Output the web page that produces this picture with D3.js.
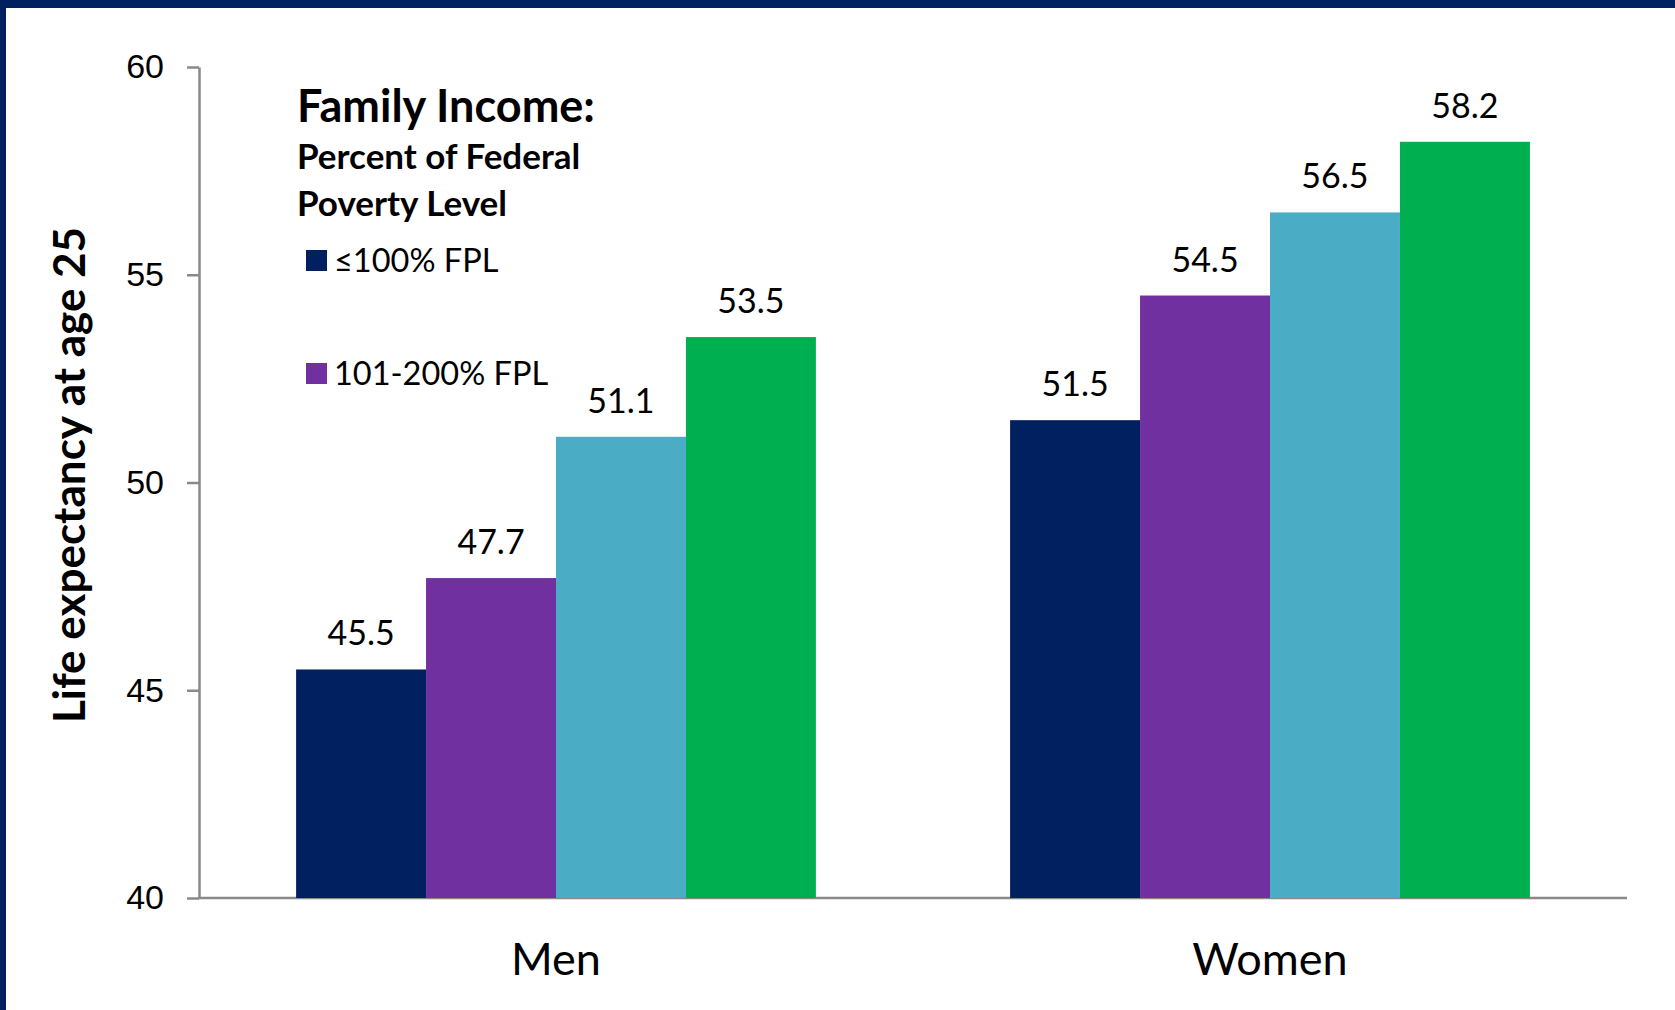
<!DOCTYPE html>
<html>
<head>
<meta charset="utf-8">
<script src="https://cdn.jsdelivr.net/npm/d3@7"></script>
<style>
  body { margin: 0; background: #fff; }
  svg { display: block; font-family: Lato, "Open Sans", sans-serif; }
  .axis path, .axis line { stroke: #898989; stroke-width: 2.5px; }
  .axis text { font-size: 34px; fill: #000; }
</style>
</head>
<body>
<script>
// categories and series
var groups = ["Men", "Women"];
var seriesNames = ["\u2264100% FPL", "101-200% FPL", "201-400% FPL", ">400% FPL"];
var seriesColors = ["#002060", "#7030A0", "#4BACC6", "#00B050"];
var menValues = [45.5, 47.7, 51.1, 53.5];
var womenValues = [51.5, 54.5, 56.5, 58.2];
var yTicks = [40, 45, 50, 55, 60];

var W = 1675, H = 1010;
var margin = { left: 199, right: 48, top: 67, bottom: 112 };

var svg = d3.select("body").append("svg")
    .attr("width", W)
    .attr("height", H);

// frame (navy band at top + left edge)
svg.append("rect").attr("x", 0).attr("y", 0).attr("width", W).attr("height", 8).attr("fill", "#002060");
svg.append("rect").attr("x", 0).attr("y", 0).attr("width", 6).attr("height", H).attr("fill", "#002060");

var x0 = d3.scaleBand()
    .domain(groups)
    .range([margin.left, W - margin.right])
    .paddingInner(0.272)
    .paddingOuter(0.136);

var x1 = d3.scaleBand()
    .domain(d3.range(seriesNames.length))
    .range([0, x0.bandwidth()]);

var y = d3.scaleLinear()
    .domain([40, 60])
    .range([H - margin.bottom, margin.top]);

var rows = [
    { group: "Men", values: menValues },
    { group: "Women", values: womenValues }
];

// y axis
svg.append("g")
    .attr("class", "axis")
    .attr("transform", "translate(" + margin.left + ",0)")
    .call(d3.axisLeft(y).tickValues(yTicks).tickSize(12).tickPadding(23).tickSizeOuter(0));

// x axis baseline
svg.append("line")
    .attr("x1", margin.left).attr("x2", W - margin.right)
    .attr("y1", y(40)).attr("y2", y(40))
    .attr("stroke", "#898989").attr("stroke-width", 2.5);

// bars
var g = svg.selectAll(".grp")
    .data(rows)
    .enter().append("g")
    .attr("class", "grp")
    .attr("transform", function(d) { return "translate(" + x0(d.group) + ",0)"; });

g.selectAll("rect")
    .data(function(d) { return d.values; })
    .enter().append("rect")
    .attr("x", function(d, i) { return x1(i); })
    .attr("y", function(d) { return y(d); })
    .attr("width", x1.bandwidth())
    .attr("height", function(d) { return y(40) - y(d); })
    .attr("fill", function(d, i) { return seriesColors[i]; });

g.selectAll("text.val")
    .data(function(d) { return d.values; })
    .enter().append("text")
    .attr("class", "val")
    .attr("x", function(d, i) { return x1(i) + x1.bandwidth() / 2; })
    .attr("y", function(d) { return y(d) - 24; })
    .attr("text-anchor", "middle")
    .attr("font-size", 34)
    .text(function(d) { return d.toFixed(1); });

// category labels
svg.selectAll("text.cat")
    .data(groups)
    .enter().append("text")
    .attr("class", "cat")
    .attr("x", function(d) { return x0(d) + x0.bandwidth() / 2; })
    .attr("y", 975)
    .attr("text-anchor", "middle")
    .attr("font-size", 45)
    .text(function(d) { return d; });

// y axis title
svg.append("text")
    .attr("transform", "translate(85,475) rotate(-90)")
    .attr("text-anchor", "middle")
    .attr("font-size", 44)
    .attr("font-weight", "bold")
    .text("Life expectancy at age 25");

// legend title
var legendTitle = ["Family Income:", "Percent of Federal", "Poverty Level"];
svg.selectAll("text.lt")
    .data(legendTitle)
    .enter().append("text")
    .attr("class", "lt")
    .attr("x", 297)
    .attr("y", function(d, i) { return [122, 169, 216][i]; })
    .attr("font-weight", "bold")
    .attr("font-size", function(d, i) { return i === 0 ? 45 : 35; })
    .text(function(d) { return d; });

// legend items (only the first two are visible in the original)
var legendItems = [0, 1];
var lg = svg.selectAll("g.leg")
    .data(legendItems)
    .enter().append("g")
    .attr("class", "leg")
    .attr("transform", function(d, i) { return "translate(306," + (250 + i * 113) + ")"; });
lg.append("rect")
    .attr("width", 21).attr("height", 21)
    .attr("fill", function(d) { return seriesColors[d]; });
lg.append("text")
    .attr("x", 28).attr("y", 22)
    .attr("font-size", 32.5)
    .text(function(d) { return seriesNames[d]; });
</script>
</body>
</html>
